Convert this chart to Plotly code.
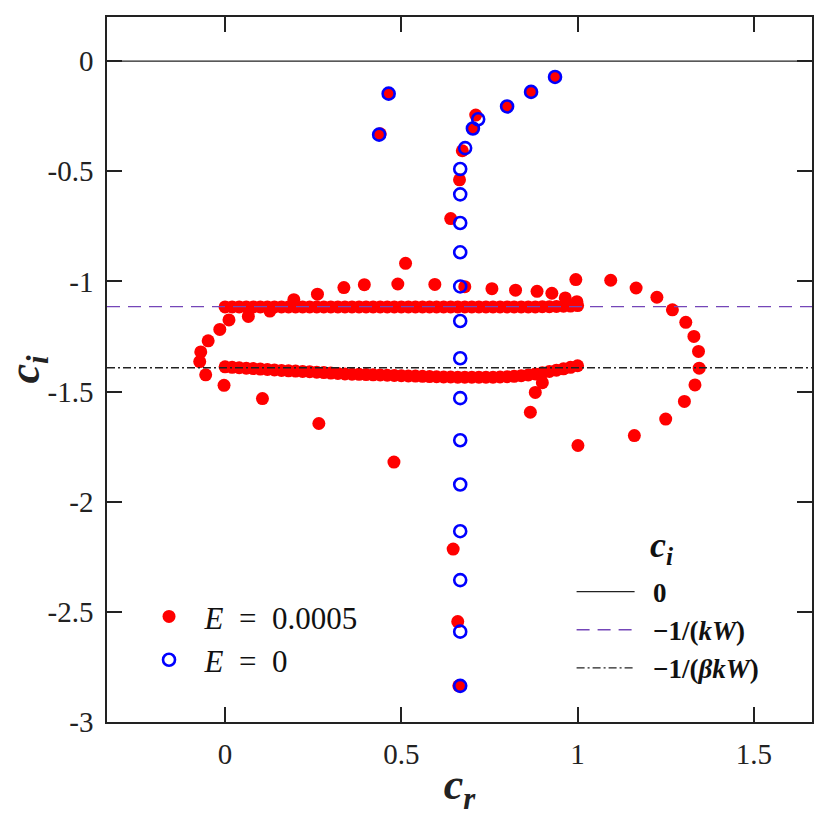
"""
c_r - c_i 特征值谱图
"""
import plotly.graph_objects as go

# 坐标轴范围与刻度
x_range = [-0.335, 1.665]
y_range = [-3.0, 0.2]
x_tickvals = [0, 0.5, 1, 1.5]
x_ticktext = ['0', '0.5', '1', '1.5']
y_tickvals = [0, -0.5, -1, -1.5, -2, -2.5, -3]
y_ticktext = ['0', '-0.5', '-1', '-1.5', '-2', '-2.5', '-3']

# 参考线 c_i 数值
ci_zero = 0.0
ci_kw = -1.115
ci_bkw = -1.392

# E = 0.0005：离散点
red_pts_x = [0.936, 0.868, 0.800, 0.711, 0.703, 0.464, 0.440, 0.673, 0.665, 0.640, 0.512,
             0.195, 0.262, 0.337, 0.395, 0.490, 0.595, 0.680, 0.757, 0.824, 0.885, 0.927, 0.965, 0.998,
             0.127, 0.066, 0.011, -0.015, -0.048, -0.069, -0.072, -0.055, -0.003, 0.106, 0.266, 0.479,
             0.995, 1.094, 1.166, 1.225, 1.269, 1.307, 1.330, 1.343, 1.345, 1.333, 1.303, 1.250, 1.161, 1.001,
             0.900, 0.880, 0.866,
             0.647, 0.660, 0.663]
red_pts_y = [-0.072, -0.140, -0.206, -0.245, -0.306, -0.148, -0.330, -0.407, -0.539, -0.715, -0.918,
             -1.083, -1.058, -1.028, -1.015, -1.012, -1.014, -1.024, -1.033, -1.040, -1.045, -1.054, -1.075, -1.092,
             -1.135, -1.159, -1.175, -1.218, -1.270, -1.320, -1.364, -1.424, -1.472, -1.532, -1.645, -1.820,
             -0.992, -0.995, -1.030, -1.072, -1.129, -1.186, -1.250, -1.318, -1.394, -1.470, -1.545, -1.625, -1.700, -1.745,
             -1.460, -1.504, -1.594,
             -2.215, -2.544, -2.836]

# E = 0.0005：上侧密集带 (c_i ≈ -1/(kW))
red_upper_x = [0.00, 0.02, 0.04, 0.06, 0.08, 0.10, 0.12, 0.14, 0.16, 0.18,
               0.20, 0.22, 0.24, 0.26, 0.28, 0.30, 0.32, 0.34, 0.36, 0.38,
               0.40, 0.42, 0.44, 0.46, 0.48, 0.50, 0.52, 0.54, 0.56, 0.58,
               0.60, 0.62, 0.64, 0.66, 0.68, 0.70, 0.72, 0.74, 0.76, 0.78,
               0.80, 0.82, 0.84, 0.86, 0.88, 0.90, 0.92, 0.94, 0.96, 0.98, 1.00]
red_upper_y = [-1.116, -1.116, -1.116, -1.116, -1.116, -1.116, -1.116, -1.116, -1.116, -1.116,
               -1.116, -1.116, -1.116, -1.116, -1.116, -1.116, -1.116, -1.116, -1.116, -1.116,
               -1.116, -1.116, -1.116, -1.116, -1.116, -1.116, -1.116, -1.116, -1.116, -1.116,
               -1.116, -1.116, -1.116, -1.116, -1.116, -1.116, -1.116, -1.116, -1.116, -1.116,
               -1.116, -1.116, -1.116, -1.116, -1.116, -1.115, -1.115, -1.114, -1.113, -1.112, -1.110]

# E = 0.0005：下侧密集带 (c_i ≈ -1/(βkW))
red_lower_x = red_upper_x
red_lower_y = [-1.388, -1.390, -1.392, -1.394, -1.396, -1.398, -1.400, -1.402, -1.404, -1.406,
               -1.407, -1.409, -1.410, -1.412, -1.414, -1.416, -1.418, -1.420, -1.421, -1.422,
               -1.423, -1.424, -1.425, -1.426, -1.427, -1.428, -1.429, -1.430, -1.431, -1.432,
               -1.433, -1.434, -1.434, -1.435, -1.435, -1.435, -1.435, -1.435, -1.435, -1.434,
               -1.433, -1.431, -1.428, -1.425, -1.420, -1.415, -1.409, -1.403, -1.397, -1.390, -1.383]

# E = 0
blue_x = [0.936, 0.868, 0.800, 0.718, 0.703, 0.464, 0.437, 0.681,
          0.667, 0.667, 0.667, 0.667, 0.667, 0.667, 0.667, 0.667,
          0.667, 0.667, 0.667, 0.667, 0.667, 0.667]
blue_y = [-0.072, -0.140, -0.206, -0.264, -0.306, -0.148, -0.334, -0.395,
          -0.490, -0.605, -0.735, -0.868, -1.023, -1.180, -1.349, -1.530,
          -1.721, -1.922, -2.134, -2.356, -2.590, -2.836]

red_x = red_upper_x + red_lower_x + red_pts_x
red_y = red_upper_y + red_lower_y + red_pts_y

serif = 'Liberation Serif, Times New Roman, DejaVu Serif, serif'
ink = '#222222'
sp = '\u2002'

fig = go.Figure()

fig.add_trace(go.Scatter(
    x=red_x, y=red_y, mode='markers',
    name=sp + '<i>E</i>' + sp + '=' + sp + '0.0005',
    marker=dict(color='#ff0000', size=13, symbol='circle'),
    legend='legend'
))
fig.add_trace(go.Scatter(
    x=blue_x, y=blue_y, mode='markers',
    name=sp + '<i>E</i>' + sp + '=' + sp + '0',
    marker=dict(color='#0000ff', size=12, symbol='circle-open', line=dict(width=2.6)),
    legend='legend'
))

# 三条水平参考线
fig.add_trace(go.Scatter(
    x=x_range, y=[ci_zero, ci_zero], mode='lines', name=sp + '<b>0</b>',
    line=dict(color='#222222', width=1.2), legend='legend2'
))
fig.add_trace(go.Scatter(
    x=x_range, y=[ci_kw, ci_kw], mode='lines', name=sp + '<b>\u22121/(<i>kW</i>)</b>',
    line=dict(color='#7446b8', width=1.3, dash='13px,8px'), legend='legend2'
))
fig.add_trace(go.Scatter(
    x=x_range, y=[ci_bkw, ci_bkw], mode='lines', name=sp + '<b>\u22121/(<i>\u03b2kW</i>)</b>',
    line=dict(color='#222222', width=1.3, dash='8px,3px,2px,3px'), legend='legend2'
))

axis_common = dict(
    showline=True, linecolor=ink, linewidth=1.6, mirror='ticks',
    ticks='inside', ticklen=15, tickwidth=1.6, tickcolor=ink,
    showgrid=False, zeroline=False, automargin=False,
    tickfont=dict(family=serif, size=29, color=ink),
)

fig.update_layout(
    width=831, height=822,
    margin=dict(l=107, r=19, t=17, b=100),
    plot_bgcolor='white', paper_bgcolor='white',
    xaxis=dict(range=x_range, tickmode='array', tickvals=x_tickvals, ticktext=x_ticktext,
               ticklabelstandoff=5,
               title=dict(text='<b><i>c<sub>r</sub></i></b>', font=dict(family=serif, size=44, color=ink),
                          standoff=0),
               **axis_common),
    yaxis=dict(range=y_range, tickmode='array', tickvals=y_tickvals, ticktext=y_ticktext,
               ticklabelstandoff=6,
               title=dict(text='<b><i>c<sub>i</sub></i></b>', font=dict(family=serif, size=44, color=ink),
                          standoff=0),
               **axis_common),
    legend=dict(x=0.0596, y=0.1875, xanchor='left', yanchor='top', bgcolor='rgba(0,0,0,0)',
                font=dict(family=serif, size=31, color='#111111'), itemwidth=30),
    legend2=dict(x=0.659, y=0.219, xanchor='left', yanchor='top', bgcolor='rgba(0,0,0,0)',
                 font=dict(family=serif, size=27, color='#111111'), itemwidth=58),
    # 第二个图例的标题
    annotations=[dict(text='<b><i>c<sub>i</sub></i></b>', xref='paper', yref='paper',
                      x=0.787, y=0.247, xanchor='center', yanchor='middle', showarrow=False,
                      font=dict(family=serif, size=36, color='#111111'))],
    showlegend=True
)

fig.write_html('out.html', config={'displayModeBar': False},
               post_script="document.body.style.margin='0';document.body.style.overflow='hidden';")
